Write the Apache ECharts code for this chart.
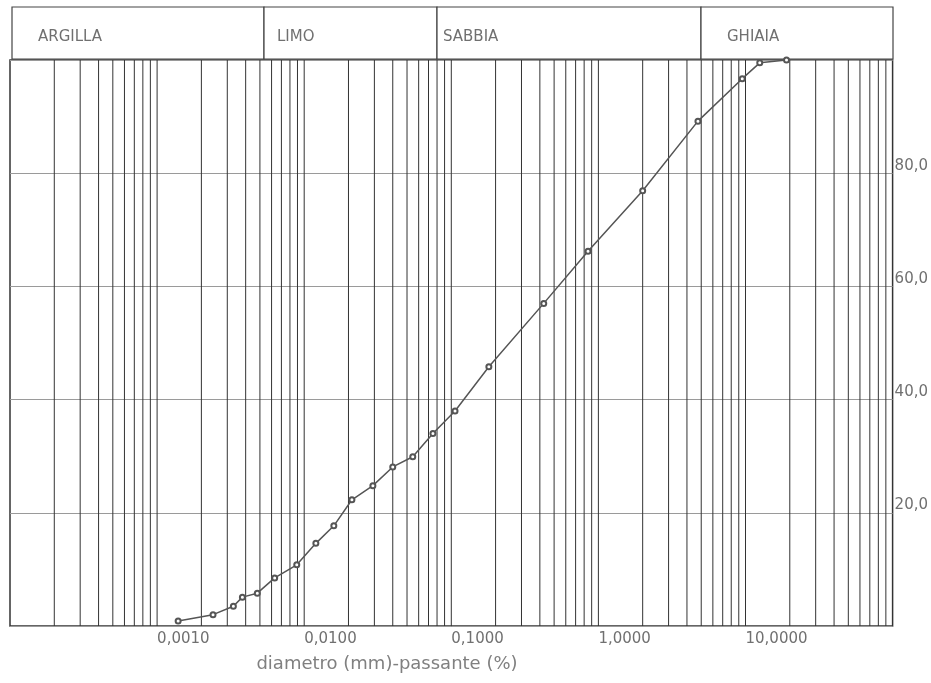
<!DOCTYPE html>
<html>
<head>
<meta charset="utf-8">
<title>Curva granulometrica</title>
<script src="https://cdn.jsdelivr.net/npm/echarts@6/dist/echarts.min.js"></script>
<style>
html, body { margin: 0; padding: 0; background: #fff; }
#granChart { width: 931px; height: 683px; }
</style>
</head>
<body>
<div id="granChart"></div>
<script>
// diametro (mm) e passante (%)
const diametri = [0.00139, 0.0024, 0.0033, 0.0038, 0.0048, 0.0063, 0.0089, 0.012, 0.0159, 0.0211,
  0.0293, 0.040, 0.0547, 0.075, 0.106, 0.18, 0.425, 0.85, 2.0, 4.75, 9.5, 12.5, 19.0];
const passante = [0.9, 2.0, 3.5, 5.1, 5.8, 8.5, 10.8, 14.6, 17.7, 22.3,
  24.8, 28.1, 29.9, 34.0, 38.0, 45.8, 57.0, 66.2, 76.9, 89.2, 96.7, 99.5, 100.0];
const classi = ["ARGILLA", "LIMO", "SABBIA", "GHIAIA"];
const decadi = [0.0001, 0.001, 0.01, 0.1, 1, 10];
const titoloAsse = "diametro (mm)-passante (%)";

function chartInit() {
  let myChart = echarts.init(document.getElementById("granChart"), null, { renderer: "canvas" });

  // linee verticali della carta logaritmica (1..9 per ogni decade)
  let righe = [];
  decadi.forEach(function (d) {
    for (let k = 2; k <= 9; k++) {
      righe.push([k * d]);
    }
    if (d > 0.0001) righe.push([d]);
  });

  let punti = diametri.map(function (d, i) {
    return [d, passante[i]];
  });

  // intestazione con le classi granulometriche
  let bordi = [12, 264, 437, 701, 893];
  let xTesto = [38, 277, 443, 727];
  let header = [];
  classi.forEach(function (c, i) {
    header.push({
      type: "rect",
      shape: { x: bordi[i], y: 7, width: bordi[i + 1] - bordi[i], height: 52 },
      style: { fill: "#fff", stroke: "#444", lineWidth: 1.2 },
    });
    header.push({
      type: "text",
      x: xTesto[i],
      y: 37,
      style: {
        text: c,
        fill: "#707070",
        font: "15px 'DejaVu Sans'",
        verticalAlign: "middle",
      },
    });
  });
  header.push({
    type: "text",
    x: 387,
    y: 664,
    style: {
      text: titoloAsse,
      fill: "#808080",
      font: "18px 'DejaVu Sans'",
      align: "center",
      verticalAlign: "middle",
    },
  });

  let options = {
    backgroundColor: "#fff",
    animation: false,
    grid: {
      left: 10,
      right: 38,
      top: 60,
      bottom: 57,
      show: true,
      borderColor: "#333",
      borderWidth: 1.5,
      containLabel: false,
    },
    xAxis: {
      type: "log",
      logBase: 10,
      min: 0.0001,
      max: 100,
      axisLine: { show: false },
      axisTick: { show: false },
      splitLine: { show: false },
      axisLabel: {
        color: "#707070",
        fontFamily: "DejaVu Sans",
        fontSize: 15,
        align: "left",
        margin: 6,
        showMinLabel: true,
        showMaxLabel: true,
        formatter: function (v) {
          if (v < 0.0005 || v > 50) return "";
          return v.toFixed(4).replace(".", ",");
        },
      },
    },
    yAxis: {
      type: "value",
      position: "right",
      min: 0,
      max: 100,
      interval: 20,
      axisLine: { show: false },
      axisTick: { show: false },
      splitLine: { show: true, lineStyle: { color: "#9a9a9a", width: 1 } },
      axisLabel: {
        color: "#707070",
        fontFamily: "DejaVu Sans",
        fontSize: 15,
        align: "left",
        verticalAlign: "bottom",
        margin: 2,
        formatter: function (v) {
          if (v <= 0 || v >= 100) return "";
          return v.toFixed(1).replace(".", ",");
        },
      },
    },
    graphic: header,
    series: [
      {
        name: "griglia",
        type: "custom",
        silent: true,
        data: righe,
        z: 1,
        renderItem: function (params, api) {
          let top = api.coord([api.value(0), 100]);
          let bottom = api.coord([api.value(0), 0]);
          return {
            type: "line",
            shape: { x1: top[0], y1: top[1], x2: bottom[0], y2: bottom[1] },
            style: { stroke: "#333", lineWidth: 1 },
          };
        },
      },
      {
        name: "passante",
        type: "line",
        data: punti,
        symbol: "emptyCircle",
        symbolSize: 5,
        lineStyle: { color: "#555", width: 1.5 },
        itemStyle: { color: "#555", borderWidth: 1 },
        z: 5,
      },
    ],
  };
  myChart.setOption(options);
}

chartInit();
</script>
</body>
</html>
